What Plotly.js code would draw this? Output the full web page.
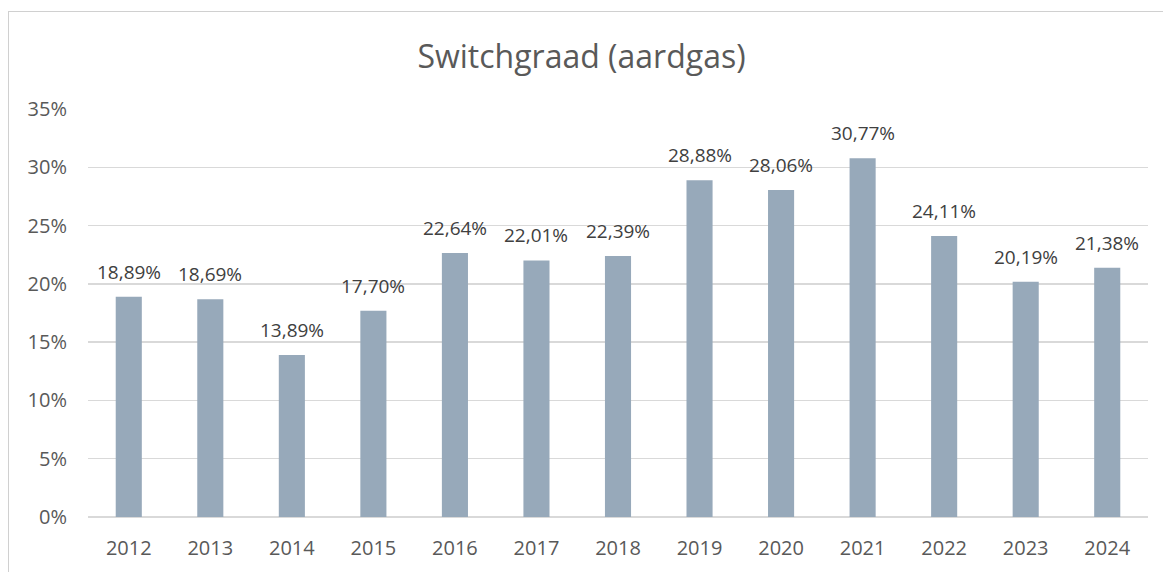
<!DOCTYPE html>
<html>
<head>
<meta charset="utf-8">
<script src="https://cdn.plot.ly/plotly-3.0.1.min.js"></script>
<style>
html,body{margin:0;padding:0;background:#fff;}
#frame{position:absolute;left:8px;top:11px;width:1200px;height:600px;border-left:1px solid #d0d0d0;border-top:1px solid #d0d0d0;pointer-events:none;z-index:5;}
#chart{position:absolute;left:0;top:0;width:1163px;height:572px;}
</style>
</head>
<body>
<div id="chart"></div>
<div id="frame"></div>
<script>
var years = ['2012','2013','2014','2015','2016','2017','2018','2019','2020','2021','2022','2023','2024'];
var switchRate = [0.1889,0.1869,0.1389,0.1770,0.2264,0.2201,0.2239,0.2888,0.2806,0.3077,0.2411,0.2019,0.2138];
var titleText = 'Switchgraad (aardgas)';

var font = '"Open Sans", "Noto Sans", sans-serif';
function fmt(v){ return (v*100).toFixed(2).replace('.', ',') + '%'; }
var annotations = years.map(function(yr, i){
  return {x: i, y: switchRate[i], xref: 'x', yref: 'y', text: fmt(switchRate[i]),
    showarrow: false, yanchor: 'middle', yshift: 25,
    font: {family: font, size: 19, color: '#404040'}};
});
Plotly.newPlot('chart', [{
  type: 'bar',
  x: years,
  y: switchRate,
  marker: {color: '#97a9ba'},
  hoverinfo: 'skip'
}], {
  width: 1163, height: 572,
  margin: {l: 88, r: 15, t: 109, b: 55},
  paper_bgcolor: '#fff', plot_bgcolor: '#fff',
  bargap: 0.68,
  annotations: annotations,
  title: {text: titleText, x: 0.5, xanchor: 'center', y: 0.9, yanchor: 'middle', font: {family: font, size: 32, color: '#595959'}},
  xaxis: {type: 'category', range: [-0.5, years.length - 0.5], autorange: false, tickfont: {family: font, size: 20, color: '#595959'}, showline: false, ticks: '', zeroline: false, ticklabelstandoff: 17},
  yaxis: {range: [0, 0.35], autorange: false, dtick: 0.05, tickformat: '.0%', tickfont: {family: font, size: 20, color: '#595959'}, gridcolor: '#d9d9d9', gridwidth: 1.5, zeroline: true, zerolinecolor: '#d9d9d9', zerolinewidth: 1.5, ticks: '', ticklen: 0, ticklabelstandoff: 20},
  showlegend: false
}, {staticPlot: true});
</script>
</body>
</html>
